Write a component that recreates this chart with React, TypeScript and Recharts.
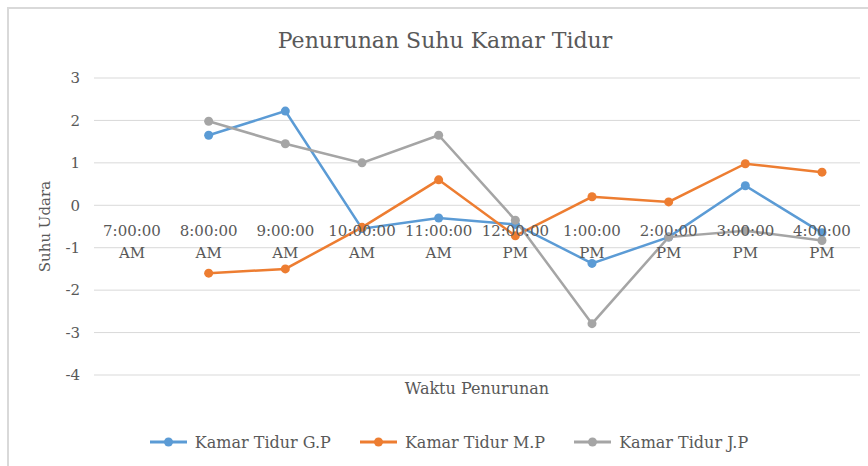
import React from 'react';
import { LineChart, Line, XAxis, YAxis, CartesianGrid, Legend } from 'recharts';

const times = [
  '7:00:00 AM', '8:00:00 AM', '9:00:00 AM', '10:00:00 AM', '11:00:00 AM',
  '12:00:00 PM', '1:00:00 PM', '2:00:00 PM', '3:00:00 PM', '4:00:00 PM',
];
const kamarGP = [null, 1.65, 2.22, -0.55, -0.3, -0.45, -1.37, -0.75, 0.46, -0.65];
const kamarMP = [null, -1.6, -1.5, -0.52, 0.6, -0.72, 0.2, 0.08, 0.98, 0.78];
const kamarJP = [null, 1.98, 1.45, 1.0, 1.65, -0.35, -2.79, -0.75, -0.6, -0.83];
const yTicks = [-4, -3, -2, -1, 0, 1, 2, 3];

const series = [
  { key: 'gp', name: 'Kamar Tidur G.P', color: '#5B9BD5' },
  { key: 'mp', name: 'Kamar Tidur M.P', color: '#ED7D31' },
  { key: 'jp', name: 'Kamar Tidur J.P', color: '#A5A5A5' },
];

const data = times.map((t, i) => ({ time: t, gp: kamarGP[i], mp: kamarMP[i], jp: kamarJP[i] }));

const FONT = '"DejaVu Serif", serif';
const TEXT = '#595959';

// plot box
const W = 868;
const H = 466;
const PLOT_TOP = 78;
const PLOT_BOTTOM = 375;
const LEGEND_H = 24;
const MARGIN_BOTTOM = 12;
const Y_MIN = -4;
const Y_MAX = 3;

// x labels sit on the zero line, like the Excel axis crossing
const zeroY = PLOT_TOP + ((Y_MAX - 0) / (Y_MAX - Y_MIN)) * (PLOT_BOTTOM - PLOT_TOP);

const TimeTick = (props: any) => {
  const { x, payload } = props;
  const [clock, ampm] = String(payload.value).split(' ');
  return (
    <g>
      <text x={x} y={zeroY + 31} textAnchor="middle" fontFamily={FONT} fontSize={15} fill={TEXT}>{clock}</text>
      <text x={x} y={zeroY + 53} textAnchor="middle" fontFamily={FONT} fontSize={15} fill={TEXT}>{ampm}</text>
    </g>
  );
};

const LegendBox = () => (
  <div style={{ display: 'flex', justifyContent: 'center', alignItems: 'center', height: LEGEND_H, paddingLeft: 38 }}>
    {series.map((s, i) => (
      <div key={s.key} style={{ display: 'flex', alignItems: 'center', marginLeft: i === 0 ? 0 : 29 }}>
        <svg width={37} height={12} style={{ marginRight: 8 }}>
          <line x1={0} y1={6} x2={37} y2={6} stroke={s.color} strokeWidth={3} />
          <circle cx={18.5} cy={6} r={4.5} fill={s.color} />
        </svg>
        <span style={{ fontFamily: FONT, fontSize: 16, color: TEXT }}>{s.name}</span>
      </div>
    ))}
  </div>
);

export default function App() {
  return (
    <div style={{ position: 'absolute', left: 0, top: 0, width: W, height: H, overflow: 'hidden', background: '#fff' }}>
      <div style={{ position: 'absolute', left: 7, top: 7, width: 900, height: 500, borderLeft: '2px solid #d9d9d9', borderTop: '2px solid #d9d9d9' }} />
      <div style={{ position: 'absolute', left: 0, width: 890, top: 28, textAlign: 'center', fontFamily: FONT, fontSize: 22, color: TEXT }}>
        Penurunan Suhu Kamar Tidur
      </div>
      <LineChart
        width={W}
        height={H}
        data={data}
        margin={{ top: PLOT_TOP, right: W - 860, left: 0, bottom: MARGIN_BOTTOM }}
      >
        <CartesianGrid vertical={false} stroke="#d9d9d9" strokeWidth={1} />
        <XAxis
          dataKey="time"
          axisLine={false}
          tickLine={false}
          interval={0}
          padding={{ left: 38, right: 38 }}
          height={H - PLOT_BOTTOM - LEGEND_H - MARGIN_BOTTOM}
          tick={<TimeTick />}
          label={{ value: 'Waktu Penurunan', position: 'insideTop', offset: 8, fontFamily: FONT, fontSize: 16, fill: TEXT }}
        />
        <YAxis
          domain={[Y_MIN, Y_MAX]}
          ticks={yTicks}
          width={94}
          axisLine={false}
          tickLine={false}
          tickSize={0}
          tickMargin={14}
          tick={{ fontFamily: FONT, fontSize: 15, fill: TEXT }}
          label={{ value: 'Suhu Udara', angle: -90, position: 'insideLeft', offset: 45, fontFamily: FONT, fontSize: 15, fill: TEXT, style: { textAnchor: 'middle' } }}
        />
        <Legend verticalAlign="bottom" height={LEGEND_H} content={<LegendBox />} />
        {series.map((s) => (
          <Line
            key={s.key}
            type="linear"
            dataKey={s.key}
            name={s.name}
            stroke={s.color}
            strokeWidth={2.5}
            dot={{ r: 4.5, fill: s.color, stroke: s.color, strokeWidth: 0 }}
            activeDot={false}
            isAnimationActive={false}
          />
        ))}
      </LineChart>
    </div>
  );
}
